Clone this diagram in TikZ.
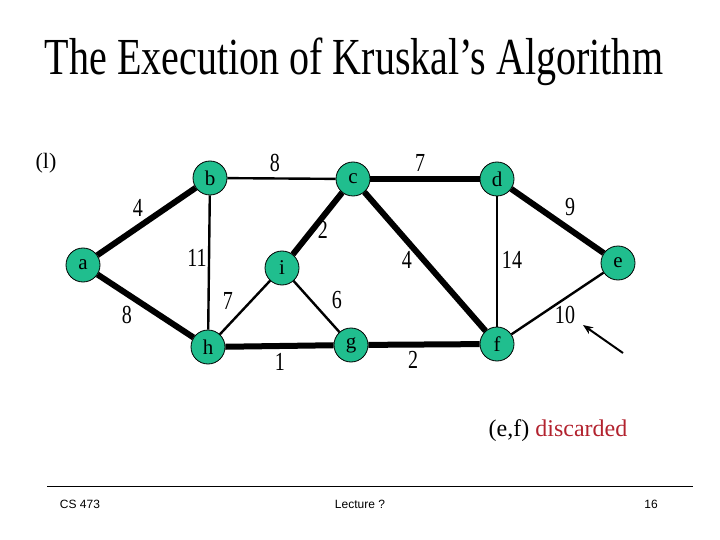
\documentclass[tikz,border=0pt]{standalone}
\usepackage{fontspec}
\setmainfont{Liberation Serif}
\newfontfamily\slidefont[FakeStretch=0.77,Ligatures=TeX]{Liberation Serif}
\newfontfamily\footfont{Liberation Sans}
\usetikzlibrary{positioning,arrows.meta}
\definecolor{vertexgreen}{RGB}{32,190,142}
\definecolor{discardred}{RGB}{178,34,46}

\begin{document}
\begin{tikzpicture}[x=1pt, y=-1pt,
      vertex/.style={draw,circle,fill=vertexgreen,line width=0.8pt,minimum size=34pt,inner sep=0pt,font=\fontsize{21}{21}\selectfont},
      weight/.style={inner sep=1pt,font=\slidefont\fontsize{26}{26}\selectfont},
      tree/.style={draw,line width=6pt},
      edge/.style={draw,line width=2.4pt},
      foot/.style={font=\footfont\fontsize{12}{12}\selectfont}
      ]

      \path[use as bounding box] (0,0) rectangle (720,540);

      \node[font=\slidefont\fontsize{52}{52}\selectfont] (title) at (354,62) {The Execution of Kruskal’s Algorithm};
      \node[font=\fontsize{22}{22}\selectfont] (step) at (46,163) {(l)};

      % les sommets
      \node[vertex] (a) at (83,265) {a};
      \node[vertex] (b) at (210,178) {b};
      \node[vertex] (c) at (353,179) {c};
      \node[vertex] (d) at (497,179) {d};
      \node[vertex] (e) at (618,263) {e};
      \node[vertex] (f) at (497,344) {f};
      \node[vertex] (g) at (351,345) {g};
      \node[vertex] (h) at (208,347) {h};
      \node[vertex] (i) at (282,268) {i};

      % arbre en cours
      \path[tree] (a) -- (b);
      \path[tree] (a) -- (h);
      \path[tree] (c) -- (i);
      \path[tree] (h) -- (g);
      \path[tree] (c) -- (d);
      \path[tree] (c) -- (f);
      \path[tree] (d) -- (e);
      \path[tree] (g) -- (f);

      % autres arêtes
      \path[edge] (b) -- (c);
      \path[edge] (b) -- (h);
      \path[edge] (i) -- (h);
      \path[edge] (i) -- (g);
      \path[edge] (d) -- (f);
      \path[edge] (e) -- (f);

      % poids
      \node[weight] (w-ab) at (138,208) {4};
      \node[weight] (w-bc) at (275,163) {8};
      \node[weight] (w-bh) at (197,258) {11};
      \node[weight] (w-ci) at (323,230) {2};
      \node[weight] (w-ah) at (127,315) {8};
      \node[weight] (w-hi) at (228,301) {7};
      \node[weight] (w-ig) at (337,300) {6};
      \node[weight] (w-hg) at (280,362) {1};
      \node[weight] (w-cd) at (420,163) {7};
      \node[weight] (w-cf) at (407,260) {4};
      \node[weight] (w-df) at (512,260) {14};
      \node[weight] (w-de) at (570,207) {9};
      \node[weight] (w-ef) at (565,315) {10};
      \node[weight] (w-gf) at (413,360) {2};

      \coordinate (arrow-start) at (623,353);
      \coordinate (arrow-end) at (583,325);
      \path[draw,line width=2pt,-{Stealth[length=10pt,width=8pt]}] (arrow-start) -- (arrow-end);

      \node[font=\fontsize{24}{24}\selectfont] (note) at (558,431) {(e,f) \textcolor{discardred}{discarded}};

      % pied de page
      \coordinate (rule-left) at (47,486);
      \coordinate (rule-right) at (693,486);
      \path[draw,line width=0.8pt] (rule-left) -- (rule-right);
      \node[foot] (course) at (80,504) {CS 473};
      \node[foot] (lecture) at (360,504) {Lecture ?};
      \node[foot] (page) at (651,504) {16};
\end{tikzpicture}
\end{document}
